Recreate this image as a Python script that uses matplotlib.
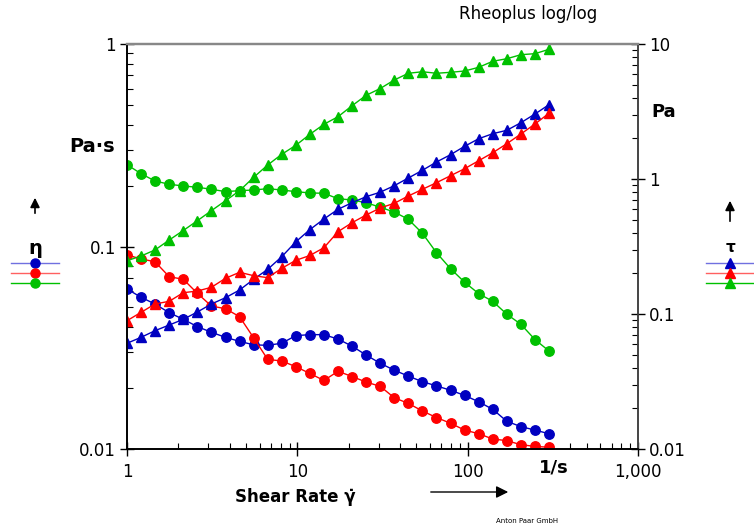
import numpy as np
import matplotlib
matplotlib.use("Agg")
from matplotlib import pyplot as plt
from matplotlib.lines import Line2D
from matplotlib.ticker import NullFormatter

plt.rcParams['font.family'] = ['DejaVu Sans']

# shear rate (1/s)
shear_rate = [1.0, 1.21, 1.46, 1.77, 2.14, 2.59, 3.13, 3.79, 4.58, 5.54, 6.7,
              8.1, 9.8, 11.85, 14.33, 17.33, 20.96, 25.35, 30.66, 37.08, 44.85,
              54.24, 65.6, 79.35, 95.97, 116.1, 140.4, 169.8, 205.3, 248.4, 300.0]

# viscosity eta (Pa.s)
eta_blue = [0.0617, 0.0561, 0.0520, 0.0471, 0.0437, 0.0402, 0.0377, 0.0356, 0.0340, 0.0327,
            0.0325, 0.0333, 0.0363, 0.0367, 0.0367, 0.0349, 0.0322, 0.0291, 0.0265, 0.0245,
            0.0229, 0.0215, 0.0205, 0.0195, 0.0184, 0.0171, 0.0157, 0.0137, 0.0129, 0.0124, 0.0119]
eta_red = [0.0908, 0.0868, 0.0841, 0.0709, 0.0689, 0.0587, 0.0508, 0.0493, 0.0450, 0.0354,
           0.0277, 0.0272, 0.0255, 0.0236, 0.0218, 0.0242, 0.0228, 0.0214, 0.0204, 0.0179,
           0.0168, 0.0154, 0.0143, 0.0134, 0.0124, 0.0119, 0.0112, 0.0110, 0.0105, 0.0103, 0.0102]
eta_green = [0.2535, 0.2288, 0.2106, 0.2029, 0.1990, 0.1961, 0.1917, 0.1866, 0.1887, 0.1901,
             0.1930, 0.1901, 0.1866, 0.1838, 0.1832, 0.1722, 0.1697, 0.1646, 0.1562, 0.1480,
             0.1362, 0.1162, 0.0932, 0.0777, 0.0666, 0.0585, 0.0536, 0.0463, 0.0413, 0.0347, 0.0305]

# shear stress tau (Pa)
tau_blue = [0.0607, 0.0672, 0.0752, 0.0829, 0.0913, 0.1035, 0.1186, 0.1321, 0.1506, 0.1807,
            0.2143, 0.2657, 0.3426, 0.4220, 0.5055, 0.5965, 0.6675, 0.7396, 0.7985, 0.8923,
            1.017, 1.160, 1.336, 1.514, 1.747, 1.988, 2.166, 2.295, 2.612, 3.03, 3.55]
tau_red = [0.0892, 0.1029, 0.1186, 0.1242, 0.1438, 0.1480, 0.1577, 0.1839, 0.2037, 0.1922,
           0.1858, 0.2180, 0.2498, 0.2713, 0.3098, 0.4071, 0.4747, 0.5412, 0.6099, 0.6607,
           0.7484, 0.8388, 0.9389, 1.058, 1.192, 1.366, 1.566, 1.826, 2.154, 2.556, 3.067]
tau_green = [0.2481, 0.2690, 0.2981, 0.3533, 0.4154, 0.4911, 0.5826, 0.6909, 0.8191, 1.029,
             1.270, 1.524, 1.777, 2.143, 2.543, 2.893, 3.491, 4.169, 4.68, 5.41,
             6.07, 6.23, 6.07, 6.17, 6.31, 6.72, 7.45, 7.78, 8.33, 8.48, 9.13]

BLUE = '#0000c0'
RED = '#ff0000'
GREEN = '#00c000'

W, H = 754, 527
fig = plt.figure(figsize=(W / 100, H / 100), dpi=100)
ax = fig.add_axes([127 / W, 1 - 449 / H, (638 - 127) / W, (449 - 44) / H])
ax2 = ax.twinx()

for y, c in [(eta_green, GREEN), (eta_blue, BLUE), (eta_red, RED)]:
    ax.plot(shear_rate, y, '-o', color=c, lw=1, ms=6.8, mec=c, mfc=c)
for y, c in [(tau_green, GREEN), (tau_blue, BLUE), (tau_red, RED)]:
    ax2.plot(shear_rate, y, '-^', color=c, lw=1, ms=7.5, mec=c, mfc=c)

ax.set_xscale('log')
ax.set_yscale('log')
ax2.set_yscale('log')
ax.set_xlim(1, 1000)
ax.set_ylim(0.01, 1)
ax2.set_ylim(0.01, 10)

fs = 12
ax.set_xticks([1, 10, 100, 1000])
ax.set_xticklabels(['1', '10', '100', '1,000'], fontsize=fs)
ax.set_yticks([0.01, 0.1, 1])
ax.set_yticklabels(['0.01', '0.1', '1'], fontsize=fs)
ax2.set_yticks([0.01, 0.1, 1, 10])
ax2.set_yticklabels(['0.01', '0.1', '1', '10'], fontsize=fs)
ax.xaxis.set_minor_formatter(NullFormatter())
ax.yaxis.set_minor_formatter(NullFormatter())
ax2.yaxis.set_minor_formatter(NullFormatter())

ax.tick_params(axis='both', which='major', direction='inout', length=10, width=1, pad=3)
ax.tick_params(axis='both', which='minor', direction='in', length=4, width=0.8)
ax2.tick_params(axis='y', which='major', direction='inout', length=10, width=1, pad=3)
ax2.tick_params(axis='y', which='minor', direction='in', length=4, width=0.8)
ax.tick_params(axis='x', which='major', pad=5)

for a in (ax, ax2):
    a.spines['top'].set_color('#888888')
    a.spines['top'].set_linewidth(1.6)
    a.spines['right'].set_color('#444444')
    a.spines['right'].set_linewidth(1.2)
    a.spines['left'].set_linewidth(1.2)
    a.spines['bottom'].set_linewidth(1.2)

def fx(px):
    return px / W

def fy(py):
    return 1 - py / H

# texts
fig.text(fx(459), fy(14), 'Rheoplus log/log', fontsize=12, va='center', ha='left')
fig.text(fx(115), fy(146), 'Pa·s', fontsize=14, fontweight='bold', va='center', ha='right')
fig.text(fx(651), fy(112), 'Pa', fontsize=13, fontweight='bold', va='center', ha='left')
fig.text(fx(554), fy(467), '1/s', fontsize=13, fontweight='bold', va='center', ha='center')
fig.text(fx(235), fy(497), 'Shear Rate γ\u0307', fontsize=12, fontweight='bold',
         va='center', ha='left')
fig.text(fx(527), fy(521), 'Anton Paar GmbH', fontsize=5, va='center', ha='center')
fig.text(fx(35), fy(249), 'η', fontsize=14, fontweight='bold', va='center', ha='center')
fig.text(fx(730), fy(248), 'τ', fontsize=11, fontweight='bold', va='center', ha='center')

# axis arrows
fig.add_artist(plt.Annotation('', xy=(fx(511), fy(492)), xytext=(fx(428), fy(492)),
                              xycoords='figure fraction', textcoords='figure fraction',
                              arrowprops=dict(arrowstyle='-|>', color='black', lw=1,
                                              mutation_scale=18)))
fig.add_artist(plt.Annotation('', xy=(fx(35), fy(195)), xytext=(fx(35), fy(216)),
                              xycoords='figure fraction', textcoords='figure fraction',
                              arrowprops=dict(arrowstyle='-|>', color='black', lw=1.2,
                                              mutation_scale=14)))
fig.add_artist(plt.Annotation('', xy=(fx(730), fy(198)), xytext=(fx(730), fy(224)),
                              xycoords='figure fraction', textcoords='figure fraction',
                              arrowprops=dict(arrowstyle='-|>', color='black', lw=1.2,
                                              mutation_scale=14)))

# legend keys
key_colors = [('#7070e0', BLUE, 263), ('#ff6060', RED, 273), (GREEN, GREEN, 283)]
for lc, mc, py in key_colors:
    fig.add_artist(Line2D([fx(11), fx(59)], [fy(py), fy(py)], color=lc, lw=1))
    fig.add_artist(Line2D([fx(35)], [fy(py)], marker='o', ms=6.5, color=mc, lw=0))
    fig.add_artist(Line2D([fx(706), fx(754)], [fy(py), fy(py)], color=lc, lw=1))
    fig.add_artist(Line2D([fx(730)], [fy(py)], marker='^', ms=7, color=mc, lw=0))

fig.savefig('out.png', dpi=100)
